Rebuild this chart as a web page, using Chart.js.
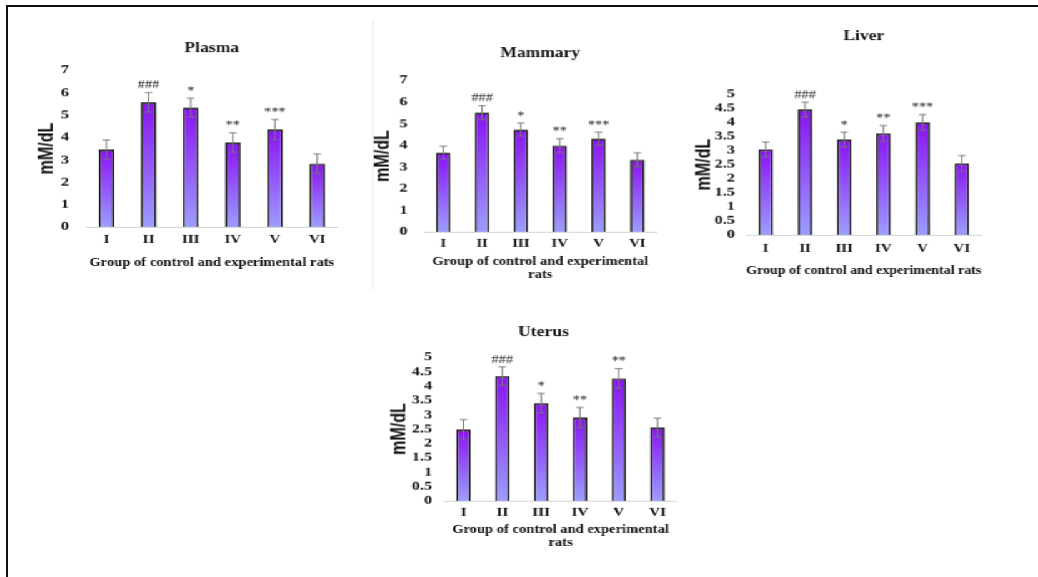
<!DOCTYPE html>
<html>
<head>
<meta charset="utf-8">
<script src="https://cdn.jsdelivr.net/npm/chart.js@4/dist/chart.umd.min.js"></script>
<style>
  html, body { margin: 0; padding: 0; background: #fff; }
  body { width: 1038px; height: 577px; position: relative; overflow: hidden; }
  .frame-top { position: absolute; left: 6px; top: 5px; width: 1032px; height: 2px; background: #111; }
  .frame-left { position: absolute; left: 6px; top: 5px; width: 2px; height: 572px; background: #111; }
  /* panels are laid out on an 830px sheet, then widened to the page */
  #sheet { position: absolute; left: 0; top: 0; width: 830.4px; height: 577px;
           transform: scaleX(1.25); transform-origin: 0 0; }
  .divider { position: absolute; left: 298.4px; top: 20px; width: 1px; height: 270px; background: #ededed; }
  .panel { position: absolute; }
</style>
</head>
<body>
<div class="frame-top"></div>
<div class="frame-left"></div>
<div id="sheet">
  <div class="divider"></div>
  <div class="panel" id="box-plasma"><canvas id="plasma"></canvas></div>
  <div class="panel" id="box-mammary"><canvas id="mammary"></canvas></div>
  <div class="panel" id="box-liver"><canvas id="liver"></canvas></div>
  <div class="panel" id="box-uterus"><canvas id="uterus"></canvas></div>
</div>
<script>
// groups of rats
const groups = ['I', 'II', 'III', 'IV', 'V', 'VI'];

// mean (mM/dL) and error for each tissue
const plasmaMeans = [3.45, 5.56, 5.33, 3.77, 4.35, 2.82];
const plasmaErrors = [0.43, 0.44, 0.42, 0.43, 0.45, 0.44];
const mammaryMeans = [3.65, 5.50, 4.72, 3.98, 4.30, 3.33];
const mammaryErrors = [0.30, 0.32, 0.30, 0.32, 0.30, 0.32];
const liverMeans = [3.04, 4.46, 3.39, 3.61, 4.00, 2.54];
const liverErrors = [0.26, 0.26, 0.26, 0.28, 0.28, 0.28];
const uterusMeans = [2.48, 4.34, 3.40, 2.90, 4.26, 2.55];
const uterusErrors = [0.35, 0.32, 0.34, 0.35, 0.34, 0.33];

// significance marks above the bars
const plasmaMarks = ['', '###', '*', '**', '***', ''];
const mammaryMarks = ['', '###', '*', '**', '***', ''];
const liverMarks = ['', '###', '*', '**', '***', ''];
const uterusMarks = ['', '###', '*', '**', '**', ''];

const xTitleOneLine = 'Group of control and experimental rats';
const xTitleTwoLines = ['Group of control and experimental', 'rats'];

const SERIF = "'Liberation Serif', 'Times New Roman', serif";
const NARROW = "'Liberation Sans Narrow', 'Liberation Sans', Arial, sans-serif";
const BAR_TOP = '#8a12f2';
const BAR_BOTTOM = '#9c9eff';

// error bars + significance marks
const errorBarPlugin = {
    id: 'errorBars',
    afterDatasetsDraw(chart, args, opts) {
        const ctx = chart.ctx;
        const y = chart.scales.y;
        const meta = chart.getDatasetMeta(0);
        const values = chart.data.datasets[0].data;
        ctx.save();
        meta.data.forEach((bar, i) => {
            const top = y.getPixelForValue(values[i] + opts.errors[i]);
            const bottom = y.getPixelForValue(values[i] - opts.errors[i]);
            ctx.strokeStyle = '#777';
            ctx.lineWidth = 1;
            ctx.beginPath();
            ctx.moveTo(bar.x, top);
            ctx.lineTo(bar.x, bottom);
            ctx.moveTo(bar.x - 3, top);
            ctx.lineTo(bar.x + 3, top);
            ctx.moveTo(bar.x - 3, bottom);
            ctx.lineTo(bar.x + 3, bottom);
            ctx.stroke();
            if (opts.marks[i]) {
                ctx.fillStyle = '#222';
                ctx.font = '11.5px ' + SERIF;
                ctx.textAlign = 'center';
                ctx.textBaseline = 'alphabetic';
                ctx.fillText(opts.marks[i], bar.x, top - 4);
            }
        });
        ctx.restore();
    }
};

function barGradient(context) {
    const chart = context.chart;
    const area = chart.chartArea;
    if (!area || context.type !== 'data') return BAR_BOTTOM;
    const top = chart.scales.y.getPixelForValue(context.raw);
    const g = chart.ctx.createLinearGradient(0, top, 0, area.bottom);
    g.addColorStop(0, BAR_TOP);
    g.addColorStop(1, BAR_BOTTOM);
    return g;
}

function makePanel(p) {
    const box = document.getElementById('box-' + p.id);
    box.style.left = p.left + 'px';
    box.style.top = p.top + 'px';
    box.style.width = p.width + 'px';
    box.style.height = p.height + 'px';
    const padLeft = p.padLeft || 0;

    return new Chart(document.getElementById(p.id), {
        type: 'bar',
        data: {
            labels: groups,
            datasets: [{
                data: p.means,
                backgroundColor: barGradient,
                borderColor: '#1b1b1b',
                borderWidth: 1.7,
                barPercentage: 0.37,
                categoryPercentage: 1
            }]
        },
        options: {
            responsive: true,
            maintainAspectRatio: false,
            animation: false,
            layout: { padding: { left: padLeft, right: 20, top: 0, bottom: 0 } },
            plugins: {
                legend: { display: false },
                tooltip: { enabled: false },
                title: {
                    display: true,
                    fullSize: !!p.padLeft,
                    text: p.title,
                    color: '#111',
                    font: { family: SERIF, size: 14, weight: 'bold', lineHeight: 1.2 },
                    padding: { top: 11.6, bottom: p.titleGap }
                },
                errorBars: { errors: p.errors, marks: p.marks }
            },
            scales: {
                x: {
                    grid: { display: false, drawTicks: false },
                    border: { display: true, color: '#d4d4d4', width: 1 },
                    ticks: {
                        color: '#111',
                        padding: p.xTickPad,
                        font: { family: SERIF, size: 12, weight: 'bold', lineHeight: 1.2 }
                    },
                    title: {
                        display: true,
                        text: p.xTitle,
                        color: '#111',
                        font: { family: SERIF, size: 11.6, weight: 'bold', lineHeight: 1.1 },
                        padding: { top: 0, bottom: 4 }
                    },
                    afterFit: (scale) => { scale.height = p.xHeight; }
                },
                y: {
                    min: 0,
                    max: p.yMax,
                    grid: { display: false, drawTicks: false },
                    border: { display: false },
                    ticks: {
                        stepSize: p.yStep,
                        autoSkip: false,
                        color: '#111',
                        padding: p.yTickPad,
                        font: { family: SERIF, size: 13, weight: 'bold' },
                        callback: (value) => String(value)
                    },
                    title: {
                        display: true,
                        text: 'mM/dL',
                        color: '#111',
                        font: { family: NARROW, size: 16, weight: 'bold', lineHeight: 1.2 },
                        padding: { top: p.yTitlePad, bottom: 0 }
                    },
                    afterFit: (scale) => { scale.width = 50 - padLeft; }
                }
            }
        },
        plugins: [errorBarPlugin]
    });
}

makePanel({
    id: 'plasma', title: 'Plasma', means: plasmaMeans, errors: plasmaErrors, marks: plasmaMarks,
    yMax: 7, yStep: 1, xTitle: xTitleOneLine,
    left: 18, top: 28, width: 271.6, height: 244.6,
    titleGap: 13.6, xHeight: 46.6, xTickPad: 5.8, yTickPad: 13, yTitlePad: 10
});
makePanel({
    id: 'mammary', title: 'Mammary', means: mammaryMeans, errors: mammaryErrors, marks: mammaryMarks,
    yMax: 7, yStep: 1, xTitle: xTitleTwoLines,
    left: 288.9, top: 33, width: 256.4, height: 251.6,
    titleGap: 18.6, xHeight: 53.6, xTickPad: 4.8, yTickPad: 13, yTitlePad: 7.9
});
makePanel({
    id: 'liver', title: 'Liver', means: liverMeans, errors: liverErrors, marks: liverMarks,
    yMax: 5, yStep: 0.5, xTitle: xTitleOneLine,
    left: 547.1, top: 16, width: 258.2, height: 264.6,
    titleGap: 49.6, xHeight: 46.6, xTickPad: 6.8, yTickPad: 9, yTitlePad: 7.3
});
// the Uterus title sits left of its plot, so its title spans a padded box
makePanel({
    id: 'uterus', title: 'Uterus', means: uterusMeans, errors: uterusErrors, marks: uterusMarks,
    yMax: 5, yStep: 0.5, xTitle: xTitleTwoLines,
    left: 305.2, top: 312, width: 255.6, height: 240.6, padLeft: 22.8,
    titleGap: 16.6, xHeight: 52.6, xTickPad: 4.8, yTickPad: 9.6, yTitlePad: -17.6
});
</script>
</body>
</html>
